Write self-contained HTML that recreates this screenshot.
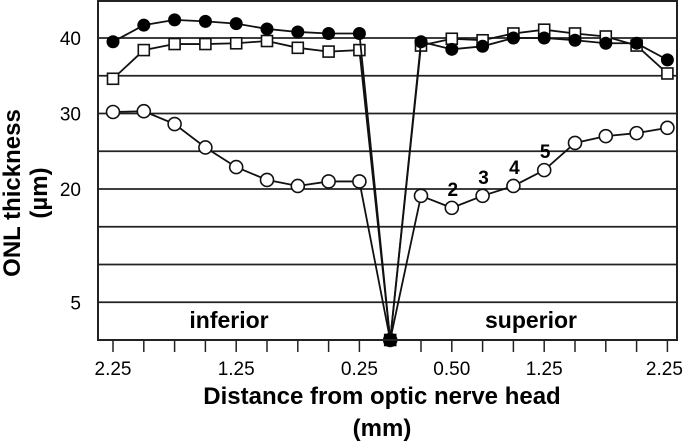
<!DOCTYPE html>
<html><head><meta charset="utf-8"><style>
html,body{margin:0;padding:0;background:#fff;width:683px;height:442px;overflow:hidden}
svg{display:block;font-family:"Liberation Sans",Arial,sans-serif}
</style></head><body>
<svg id="chart" width="683" height="442" viewBox="0 0 683 442" xmlns="http://www.w3.org/2000/svg">
<g id="grid"></g>
<g id="series"></g>
<rect x="98" y="1" width="579" height="339" fill="none" stroke="#222" stroke-width="2"/>
<g id="xticks"></g>
<g id="yticks"></g>
<text x="229" y="328" font-size="23" font-weight="bold" text-anchor="middle">inferior</text>
<text x="531" y="328" font-size="23" font-weight="bold" text-anchor="middle">superior</text>
<g id="annos"></g>
<text x="382" y="404" font-size="24" font-weight="bold" text-anchor="middle">Distance from optic nerve head</text>
<text x="382" y="436" font-size="24" font-weight="bold" text-anchor="middle">(mm)</text>
<g transform="translate(20,193) rotate(-90)">
<text x="0" y="0" font-size="24" font-weight="bold" text-anchor="middle">ONL thickness</text>
<text x="0" y="27" font-size="24" font-weight="bold" text-anchor="middle">(µm)</text>
</g>
</svg>
<script>
const categories = ["2.25","","","","1.25","","","","0.25","ONH","","0.50","","","1.25","","","","2.25"];
const filledValues = [39.5,41.7,42.4,42.2,41.9,41.2,40.8,40.6,40.6,0,39.5,38.5,38.9,40.0,40.0,39.7,39.3,39.3,37.1];
const squareValues = [34.6,38.4,39.2,39.2,39.3,39.6,38.7,38.2,38.4,0,39.0,39.9,39.7,40.6,41.1,40.6,40.2,39.0,35.3];
const openValues = [30.2,30.3,28.6,25.5,22.9,21.2,20.4,21.0,21.0,0,19.1,17.5,19.1,20.4,22.5,26.1,27.0,27.4,28.1];
const gridValues = [5,10,15,20,25,30,35,40];
const yTickLabels = ["40","30","20","5"];
const yTickValues = [40,30,20,5];
const annoLabels = ["2","3","4","5"];
const annoIndex = [11,12,13,14];

const NS="http://www.w3.org/2000/svg";
const xs = i => 113 + i*30.8;
const ys = v => 340 - v*7.55;
function mk(tag, attrs, parent){const e=document.createElementNS(NS,tag);for(const k in attrs)e.setAttribute(k,attrs[k]);parent.appendChild(e);return e;}
const grid=document.getElementById('grid'), ser=document.getElementById('series');
gridValues.forEach(v=>{
  const l=mk('line',{x1:98,x2:677,y1:ys(v),y2:ys(v),stroke:'#222','stroke-width':1.8},grid);
  
  
});
const xt=document.getElementById('xticks');
categories.forEach((c,i)=>{
  if(i!==9){
    const t=mk('line',{x1:xs(i),x2:xs(i),y1:340,y2:352,stroke:'#222','stroke-width':1.5},xt);
    
    
  }
  if(c && c!=="ONH"){
    const lx = i===categories.length-1 ? xs(i)-3 : xs(i);
    const tx=mk('text',{x:lx,y:375,'font-size':19,'text-anchor':'middle'},xt);
    tx.textContent=c;
    
    
  }
});
const yt=document.getElementById('yticks');
yTickValues.forEach((v,i)=>{
  const tx=mk('text',{x:81,y:ys(v)+7,'font-size':19,'text-anchor':'end'},yt);
  tx.textContent=yTickLabels[i];
  
  
});
function drawSeries(vals,type,name){
  const g=mk('g',{},ser);
  
  
  const pts=vals.map((v,i)=>xs(i)+','+ys(v)).join(' ');
  mk('polyline',{points:pts,fill:'none',stroke:'#111','stroke-width':1.8},g);
  vals.forEach((v,i)=>{
    let m;
    if(type==='filled') m=mk('circle',{cx:xs(i),cy:ys(v),r:6.5,fill:'#000'},g);
    else if(type==='open') m=mk('circle',{cx:xs(i),cy:ys(v),r:6.5,fill:'#fff',stroke:'#111','stroke-width':1.6},g);
    else m=mk('rect',{x:xs(i)-5.5,y:ys(v)-5.5,width:11,height:11,fill:'#fff',stroke:'#111','stroke-width':1.6},g);
    
    
  });
}
drawSeries(openValues,'open','open-circle-series');
drawSeries(squareValues,'square','square-series');
drawSeries(filledValues,'filled','filled-circle-series');
const cm=mk('rect',{x:xs(9)-6,y:ys(0)-6,width:12,height:12,fill:'#000'},ser);


const an=document.getElementById('annos');
annoIndex.forEach((idx,k)=>{
  const tx=mk('text',{x:xs(idx)+1,y:ys(openValues[idx])-12,'font-size':19,'font-weight':'bold','text-anchor':'middle'},an);
  tx.textContent=annoLabels[k];
  
  
});
</script>
</body></html>
